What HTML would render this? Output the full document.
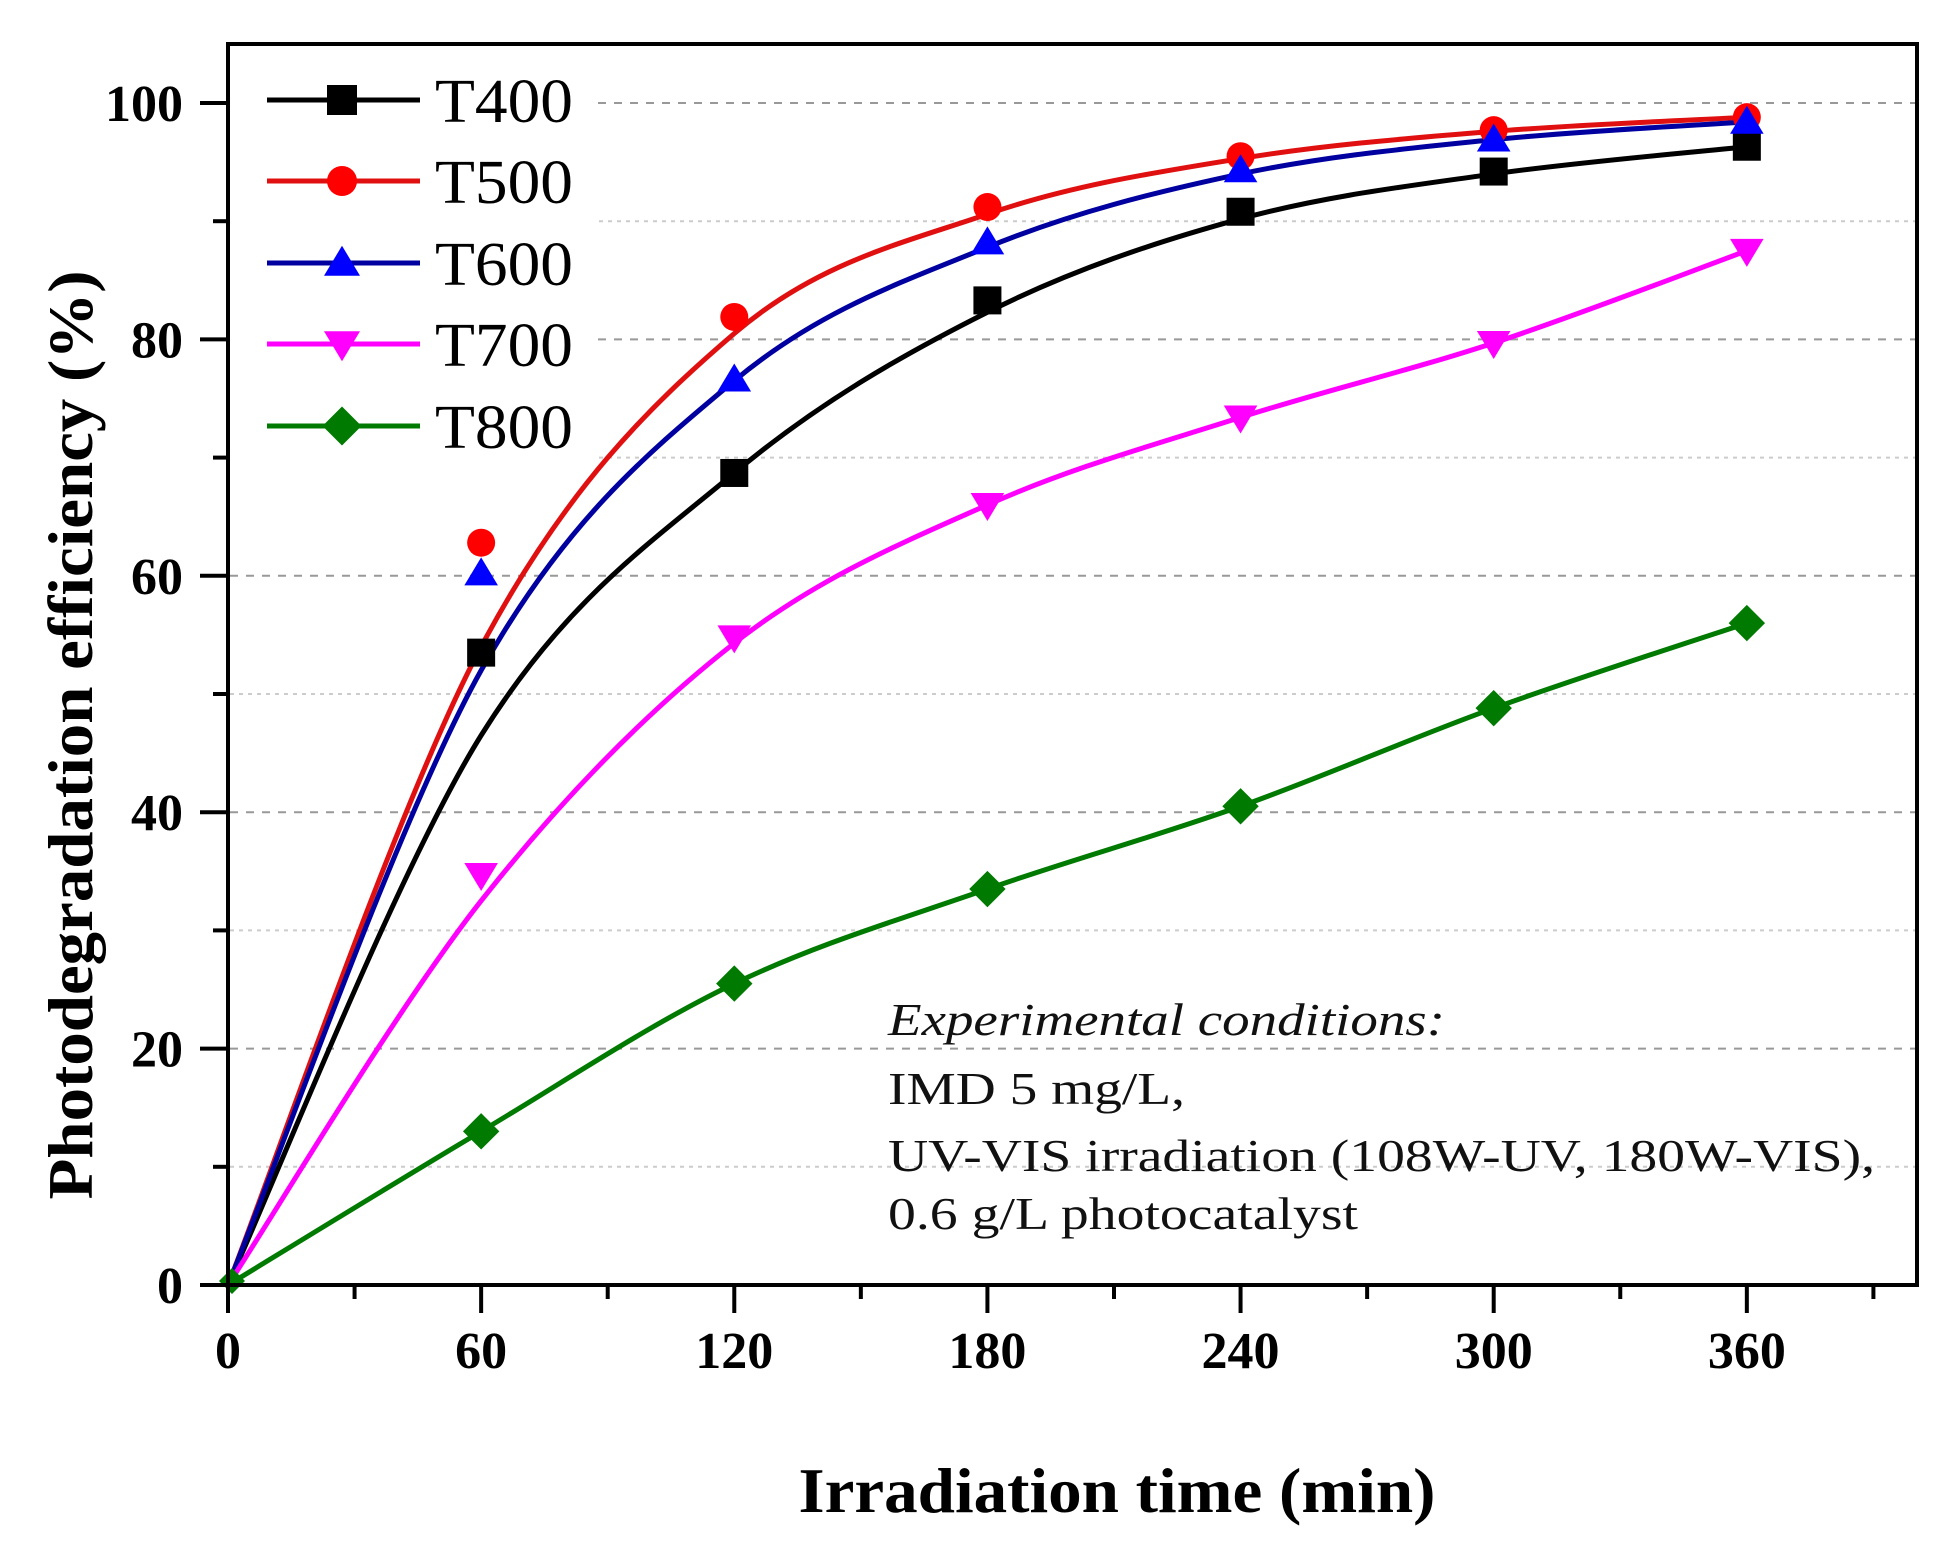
<!DOCTYPE html>
<html><head><meta charset="utf-8"><style>html,body{margin:0;padding:0;background:#fff}svg{display:block}text{font-family:"Liberation Serif",serif}</style></head>
<body>
<svg id="s" xmlns="http://www.w3.org/2000/svg" width="1959" height="1551" viewBox="0 0 1959 1551">
<rect width="1959" height="1551" fill="#fff"/>
<g id="grid"></g>
<rect x="230" y="46" width="364" height="430" fill="#fff"/>
<g id="curves" fill="none" stroke-width="5"></g>
<g id="marks"></g>
<rect x="228" y="44" width="1689" height="1241" fill="none" stroke="#000" stroke-width="4"/>
<g id="ticks" stroke="#000" stroke-width="4"></g>
<g font-weight="bold" font-size="52" fill="#000" id="labels"></g>
<g id="legend"></g>
<text x="1117" y="1512" text-anchor="middle" font-weight="bold" font-size="64" textLength="637" lengthAdjust="spacingAndGlyphs">Irradiation time (min)</text>
<text transform="translate(92,735) rotate(-90)" text-anchor="middle" font-weight="bold" font-size="64" textLength="929" lengthAdjust="spacingAndGlyphs">Photodegradation efficiency (%)</text>
<g font-size="46" fill="#111">
<text x="888" y="1035" font-style="italic" textLength="557" lengthAdjust="spacingAndGlyphs">Experimental conditions:</text>
<text x="888" y="1104" textLength="297" lengthAdjust="spacingAndGlyphs">IMD 5 mg/L,</text>
<text x="888" y="1171" textLength="987" lengthAdjust="spacingAndGlyphs">UV-VIS irradiation (108W-UV, 180W-VIS),</text>
<text x="888" y="1229" textLength="470" lengthAdjust="spacingAndGlyphs">0.6 g/L photocatalyst</text>
</g>
</svg>
<script>
const NS="http://www.w3.org/2000/svg";
const X=t=>228+t*4.219, Y=v=>1285-v*11.82;
function el(p,tag,a,txt){const e=document.createElementNS(NS,tag);for(const k in a)e.setAttribute(k,a[k]);if(txt!==undefined)e.textContent=txt;document.getElementById(p).appendChild(e);return e;}
for(let v=10;v<=100;v+=10){const major=v%20==0;el('grid','line',{x1:230,x2:1915,y1:Y(v),y2:Y(v),stroke:major?'#999':'#ccc','stroke-width':2,'stroke-dasharray':major?'8,8':'4,5'});}
for(let t=0;t<=390;t+=30){const m=t%60==0;el('ticks','line',{x1:X(t),x2:X(t),y1:1285,y2:m?1313:1299});}
for(let v=0;v<=100;v+=10){const m=v%20==0;el('ticks','line',{x1:228,x2:m?200:213,y1:Y(v),y2:Y(v)});}
for(let t=0;t<=360;t+=60)el('labels','text',{x:X(t),y:1368,'text-anchor':'middle'},t);
for(let v=0;v<=100;v+=20)el('labels','text',{x:183,y:Y(v)+18,'text-anchor':'end'},v);
const ts=[0,60,120,180,240,300,360];
const S=[
 {c:'#000',lc:'#000',m:'sq',d:[0,53.5,68.7,83.3,90.8,94.2,96.3],pts:[0,46.5,68.7,82.3,90.2,94,96.3]},
 {c:'#f00',lc:'#e01010',m:'ci',d:[0,62.8,81.9,91.2,95.5,97.7,98.8],pts:[0,54,80.5,90.6,95.3,97.6,98.8]},
 {c:'#00f',lc:'#0000a0',m:'tu',d:[0,60.2,76.6,88.2,94.3,96.9,98.4],pts:[0,52,76.5,87.8,94,96.9,98.4]},
 {c:'#f0f',lc:'#f0f',m:'td',d:[0,34.7,54.8,66,73.4,79.7,87.5],pts:[0,32.5,54.3,66,73.4,79.7,87.5]},
 {c:'#007a00',lc:'#007a00',m:'di',d:[0,13,25.5,33.5,40.5,48.8,56],pts:[0,13,25.5,33.5,40.5,48.8,56]}
];
function spline(p){let d='M'+p[0][0]+','+p[0][1];for(let i=0;i<p.length-1;i++){const p0=p[Math.max(0,i-1)],p1=p[i],p2=p[i+1],p3=p[Math.min(p.length-1,i+2)];const c1=[p1[0]+(p2[0]-p0[0])/6,p1[1]+(p2[1]-p0[1])/6],c2=[p2[0]-(p3[0]-p1[0])/6,p2[1]-(p3[1]-p1[1])/6];d+=` C${c1} ${c2} ${p2}`;}return d;}
function marker(g,type,x,y,c,s){s=s||14;
 if(type=='sq')el(g,'rect',{x:x-s,y:y-s,width:2*s,height:2*s,fill:c});
 else if(type=='ci')el(g,'circle',{cx:x,cy:y,r:s,fill:c});
 else if(type=='tu')el(g,'polygon',{points:`${x},${y-s*1.15} ${x+s*1.2},${y+s*0.85} ${x-s*1.2},${y+s*0.85}`,fill:c});
 else if(type=='td')el(g,'polygon',{points:`${x},${y+s*1.15} ${x+s*1.2},${y-s*0.85} ${x-s*1.2},${y-s*0.85}`,fill:c});
 else el(g,'polygon',{points:`${x},${y-s*1.3} ${x+s*1.3},${y} ${x},${y+s*1.3} ${x-s*1.3},${y}`,fill:c});}
S.forEach(s=>{el('curves','path',{d:spline(ts.map((t,i)=>[X(t),Y(s.pts[i])])),stroke:s.lc});});
S.forEach(s=>ts.forEach((t,i)=>{if(i>0)marker('marks',s.m,X(t),Y(s.d[i]),s.c);}));
marker('marks','di',X(0)+4,Y(0)-4,'#007a00',10);
const ly=[100,181,263,344,426];
S.forEach((s,i)=>{el('legend','line',{x1:267,x2:420,y1:ly[i],y2:ly[i],stroke:s.lc,'stroke-width':5});marker('legend',s.m,342,ly[i],s.c,15);
 el('legend','text',{x:435,y:ly[i]+22,'font-size':62,textLength:138,lengthAdjust:'spacingAndGlyphs'},'T'+(400+i*100));});
</script>
</body></html>
